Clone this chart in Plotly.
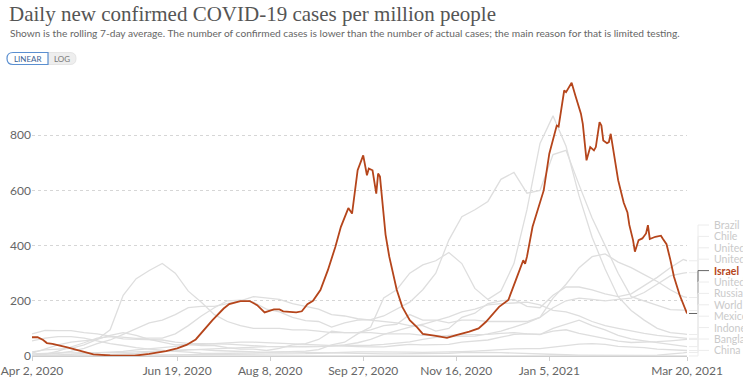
import plotly.graph_objects as go

# ---------------- data ----------------
weekly_dates = [
    "2020-04-02", "2020-04-09", "2020-04-16", "2020-04-23", "2020-04-30", "2020-05-07",
    "2020-05-14", "2020-05-21", "2020-05-28", "2020-06-04", "2020-06-11", "2020-06-18",
    "2020-06-25", "2020-07-02", "2020-07-09", "2020-07-16", "2020-07-23", "2020-07-30",
    "2020-08-06", "2020-08-13", "2020-08-20", "2020-08-27", "2020-09-03", "2020-09-10",
    "2020-09-17", "2020-09-24", "2020-10-01", "2020-10-08", "2020-10-15", "2020-10-22",
    "2020-10-29", "2020-11-05", "2020-11-12", "2020-11-19", "2020-11-26", "2020-12-03",
    "2020-12-10", "2020-12-17", "2020-12-24", "2020-12-31", "2021-01-07", "2021-01-14",
    "2021-01-21", "2021-01-28", "2021-02-04", "2021-02-11", "2021-02-18", "2021-02-25",
    "2021-03-04", "2021-03-11", "2021-03-18", "2021-03-20",
]

brazil = [3, 6, 10, 17, 28, 45, 58, 78, 100, 120, 130, 150, 175, 180, 180, 190, 200, 215,
          210, 205, 190, 180, 170, 150, 145, 135, 130, 125, 120, 110, 110, 90, 100, 140,
          155, 190, 200, 205, 180, 175, 220, 250, 250, 240, 225, 215, 225, 255, 285, 320,
          350, 345]
chile = [15, 22, 25, 28, 40, 60, 95, 220, 280, 310, 335, 300, 235, 195, 150, 125, 110, 100,
         100, 100, 95, 95, 90, 85, 85, 85, 85, 80, 80, 80, 75, 75, 70, 70, 72, 80, 90, 105,
         120, 140, 175, 200, 210, 205, 200, 205, 210, 230, 260, 290, 300, 302]
uae = [10, 25, 40, 50, 55, 60, 75, 85, 75, 60, 50, 40, 42, 38, 38, 30, 25, 25, 20, 28, 40,
       45, 60, 90, 85, 85, 95, 110, 115, 150, 130, 130, 120, 130, 130, 125, 125, 125, 125,
       140, 210, 260, 320, 360, 370, 340, 320, 295, 270, 240, 215, 212]
usa = [80, 93, 92, 92, 85, 80, 72, 67, 64, 65, 65, 80, 110, 145, 175, 200, 202, 195, 170,
       160, 140, 128, 125, 105, 120, 130, 132, 145, 170, 195, 240, 300, 420, 505, 530, 560,
       640, 665, 590, 600, 730, 745, 620, 500, 400, 300, 215, 200, 185, 168, 166, 165]
uk = [55, 65, 70, 70, 65, 55, 45, 38, 30, 25, 20, 17, 14, 10, 9, 9, 10, 11, 13, 15, 17, 18,
      23, 40, 50, 80, 105, 210, 240, 300, 330, 345, 375, 335, 245, 205, 235, 335, 530, 770,
      870, 760, 580, 430, 315, 215, 165, 130, 100, 85, 80, 78]
russia = [1.5, 6, 18, 32, 48, 65, 70, 62, 60, 59, 58, 50, 46, 45, 45, 43, 40, 37, 35, 34, 33,
          33, 34, 36, 40, 48, 60, 78, 92, 105, 115, 128, 142, 160, 170, 185, 190, 192, 195,
          185, 165, 160, 145, 125, 110, 100, 90, 82, 75, 70, 65, 64]
world = [8, 10, 11, 11, 11, 11, 12, 13, 15, 16, 17, 19, 22, 24, 26, 29, 32, 33, 34, 34, 34,
         35, 35, 36, 38, 38, 39, 42, 46, 51, 60, 67, 75, 77, 77, 78, 82, 85, 80, 78, 90, 95,
         82, 72, 63, 54, 49, 50, 52, 55, 58, 60]
mexico = [1, 2, 4, 6, 9, 11, 14, 17, 22, 25, 30, 35, 40, 42, 45, 48, 50, 50, 48, 46, 42, 40,
          38, 36, 34, 34, 33, 33, 38, 42, 40, 40, 42, 50, 55, 58, 68, 78, 80, 78, 100, 115,
          130, 110, 95, 75, 62, 55, 48, 42, 35, 34]
indonesia = [0.5, 0.8, 1, 1.1, 1.2, 1.4, 1.6, 2, 2.2, 2.5, 3.3, 4, 4.5, 5, 5.8, 6.2, 6.5, 6.8,
             7, 7.5, 7.5, 8.5, 10, 12, 13, 15, 15, 15.5, 15, 14, 13, 13.5, 14, 16, 18, 21, 23,
             26, 27, 27, 32, 38, 43, 45, 42, 35, 33, 30, 25, 22, 20, 20]
bangladesh = [0, 0.3, 1, 2, 3, 4, 6, 7, 9, 14, 18, 20, 23, 23, 20, 18, 16, 15, 13, 15, 14, 13,
              12, 11, 9, 9, 8.5, 8, 8, 8, 8.5, 9, 10, 12, 13, 13, 12, 10, 8, 6.5, 5, 4.5, 3.5,
              3, 2.5, 2.5, 2.4, 2.5, 3.5, 6, 11, 13]
china = [0.06, 0.05, 0.06, 0.02, 0.01, 0.01, 0.01, 0.01, 0.0, 0.0, 0.01, 0.02, 0.02, 0.0,
         0.0, 0.01, 0.02, 0.05, 0.06, 0.05, 0.03, 0.01, 0.01, 0.01, 0.01, 0.01, 0.01, 0.01,
         0.01, 0.02, 0.02, 0.02, 0.02, 0.02, 0.02, 0.01, 0.01, 0.02, 0.02, 0.02, 0.06, 0.09,
         0.08, 0.06, 0.03, 0.01, 0.01, 0.01, 0.01, 0.01, 0.01, 0.01]

israel_dates = [
    "2020-04-02", "2020-04-05", "2020-04-08", "2020-04-10", "2020-04-13", "2020-04-16",
    "2020-04-21", "2020-04-25", "2020-04-29", "2020-05-05", "2020-05-14", "2020-05-27",
    "2020-06-04", "2020-06-13", "2020-06-19", "2020-06-24", "2020-06-29", "2020-07-03",
    "2020-07-08", "2020-07-14", "2020-07-17", "2020-07-23", "2020-07-28", "2020-08-01",
    "2020-08-05", "2020-08-10", "2020-08-13", "2020-08-15", "2020-08-22", "2020-08-25",
    "2020-08-28", "2020-08-31", "2020-09-04", "2020-09-08", "2020-09-12", "2020-09-15",
    "2020-09-19", "2020-09-21", "2020-09-24", "2020-09-27", "2020-09-29", "2020-09-30",
    "2020-10-02", "2020-10-04", "2020-10-05", "2020-10-06", "2020-10-09", "2020-10-11",
    "2020-10-15", "2020-10-18", "2020-10-22", "2020-10-26", "2020-10-29", "2020-11-05",
    "2020-11-11", "2020-11-16", "2020-11-23", "2020-11-28", "2020-12-02", "2020-12-09",
    "2020-12-14", "2020-12-18", "2020-12-22", "2020-12-23", "2020-12-24", "2020-12-27",
    "2021-01-02", "2021-01-05", "2021-01-08", "2021-01-09", "2021-01-10", "2021-01-11",
    "2021-01-13", "2021-01-14", "2021-01-15", "2021-01-17", "2021-01-19", "2021-01-20",
    "2021-01-21", "2021-01-22", "2021-01-23", "2021-01-25", "2021-01-27", "2021-01-29",
    "2021-01-30", "2021-02-01", "2021-02-02", "2021-02-03", "2021-02-05", "2021-02-06",
    "2021-02-07", "2021-02-09", "2021-02-11", "2021-02-14", "2021-02-16", "2021-02-17",
    "2021-02-19", "2021-02-20", "2021-02-22", "2021-02-24", "2021-02-26", "2021-02-27",
    "2021-02-28", "2021-03-03", "2021-03-06", "2021-03-07", "2021-03-09", "2021-03-11",
    "2021-03-13", "2021-03-16", "2021-03-18", "2021-03-20",
]
israel = [
    68, 68, 58, 47, 44, 40, 31, 24, 16, 6, 2, 1, 8, 18, 28, 40, 60, 92, 130, 172, 188, 199,
    199, 184, 158, 169, 169, 162, 158, 162, 188, 200, 239, 311, 395, 468, 536, 516, 673, 727,
    655, 679, 673, 588, 661, 650, 440, 360, 240, 178, 130, 104, 80, 73, 66, 76, 88, 100, 124,
    178, 203, 275, 347, 334, 360, 468, 600, 733, 811, 835, 831, 878, 962, 956, 968, 990, 944,
    920, 896, 878, 841, 709, 757, 745, 757, 847, 835, 781, 771, 775, 805, 727, 637, 555, 520,
    475, 420, 378, 420, 426, 444, 474, 424, 432, 436, 425, 405, 350, 287, 222, 184, 154,
]

gray_series = [
    ("Brazil", brazil), ("Chile", chile), ("United Arab Emirates", uae),
    ("United States", usa), ("United Kingdom", uk), ("Russia", russia),
    ("World", world), ("Mexico", mexico), ("Indonesia", indonesia),
    ("Bangladesh", bangladesh), ("China", china),
]
label_order = ["Brazil", "Chile", "United Arab Emirates", "United States", "Israel",
               "United Kingdom", "Russia", "World", "Mexico", "Indonesia", "Bangladesh", "China"]

tick_dates = ["2020-04-02", "2020-06-19", "2020-08-08", "2020-09-27", "2020-11-16",
              "2021-01-05", "2021-03-20"]
tick_text = ["Apr 2, 2020", "Jun 19, 2020", "Aug 8, 2020", "Sep 27, 2020", "Nov 16, 2020",
             "Jan 5, 2021", "Mar 20, 2021"]
y_ticks = [0, 200, 400, 600, 800]

title = "Daily new confirmed COVID-19 cases per million people"
subtitle = ("Shown is the rolling 7-day average. The number of confirmed cases is lower than "
            "the number of actual cases; the main reason for that is limited testing.")

# ---------------- layout geometry ----------------
W, H = 743, 386
L, R, T, B = 32, 56, 80, 30
PW, PH = W - L - R, H - T - B
YMAX = 1000

RED = "#b5451b"
GRAY = "#dedede"


def px(x):
    return (x - L) / PW


def py(y):
    return (H - B - y) / PH


fig = go.Figure()
for name, vals in gray_series:
    fig.add_trace(go.Scatter(x=weekly_dates, y=vals, mode="lines", name=name,
                             line=dict(color=GRAY, width=1.3), hoverinfo="x+y+name"))
fig.add_trace(go.Scatter(x=israel_dates, y=israel, mode="lines", name="Israel",
                         line=dict(color=RED, width=1.8), hoverinfo="x+y+name"))

annotations = []
shapes = []

annotations.append(dict(text=title, x=px(7), y=py(14), xref="paper", yref="paper",
                        xanchor="left", yanchor="middle", showarrow=False,
                        font=dict(family="Liberation Serif", size=21, color="#555")))
annotations.append(dict(text=subtitle, x=px(8), y=py(33), xref="paper", yref="paper",
                        xanchor="left", yanchor="middle", showarrow=False,
                        font=dict(family="Lato", size=10.2, color="#666")))


def rrect(x0, y0, x1, y1, rl, rr):
    X0, X1 = px(x0), px(x1)
    Y0, Y1 = py(y0), py(y1)
    rxl, ryl = rl / PW, rl / PH
    rxr, ryr = rr / PW, rr / PH
    return (f"M {X0 + rxl} {Y0} L {X1 - rxr} {Y0} Q {X1} {Y0} {X1} {Y0 - ryr} "
            f"L {X1} {Y1 + ryr} Q {X1} {Y1} {X1 - rxr} {Y1} L {X0 + rxl} {Y1} "
            f"Q {X0} {Y1} {X0} {Y1 + ryl} L {X0} {Y0 - ryl} Q {X0} {Y0} {X0 + rxl} {Y0} Z")


shapes.append(dict(type="path", xref="paper", yref="paper", path=rrect(48, 52.5, 76, 64.5, 0, 6),
                   fillcolor="#eeeeee", line=dict(color="#e4e4e4", width=1)))
shapes.append(dict(type="path", xref="paper", yref="paper", path=rrect(7, 52.5, 48, 64.5, 6, 0),
                   fillcolor="white", line=dict(color="#5a8fd0", width=1.2)))
annotations.append(dict(text="LINEAR", x=px(27.5), y=py(58.5), xref="paper", yref="paper",
                        showarrow=False, xanchor="center", yanchor="middle",
                        font=dict(family="Lato", size=8, color="#3a5f95")))
annotations.append(dict(text="LOG", x=px(62), y=py(58.5), xref="paper", yref="paper",
                        showarrow=False, xanchor="center", yanchor="middle",
                        font=dict(family="Lato", size=8, color="#777")))

end_values = {name: vals[-1] for name, vals in gray_series}
end_values["Israel"] = israel[-1]
label_y0, label_step = 225, 11.4
for i, name in enumerate(label_order):
    ly = label_y0 + i * label_step
    is_isr = name == "Israel"
    annotations.append(dict(text=f"<b>{name}</b>" if is_isr else name,
                            x=px(712), y=py(ly), xref="paper", yref="paper",
                            xanchor="left", yanchor="middle", showarrow=False,
                            font=dict(family="Lato", size=10.5,
                                      color=RED if is_isr else "#cacaca")))
    ey = end_values[name] / YMAX
    lc = "#666" if is_isr else "#ececec"
    xm = px(698)
    shapes.append(dict(type="path", xref="paper", yref="paper",
                       path=f"M {px(689)} {ey} L {xm} {ey} L {xm} {py(ly)} L {px(709)} {py(ly)}",
                       line=dict(color=lc, width=1)))

fig.update_layout(
    width=W, height=H,
    margin=dict(l=L, r=R, t=T, b=B, autoexpand=False),
    paper_bgcolor="white", plot_bgcolor="white",
    showlegend=False,
    font=dict(family="Lato", color="#666"),
    annotations=annotations, shapes=shapes,
    xaxis=dict(type="date", range=["2020-04-02", "2021-03-20"], tickvals=tick_dates,
               ticktext=tick_text, showgrid=False, showline=True, linecolor="#cfcfcf",
               linewidth=1, ticks="outside", ticklen=4, tickcolor="#cfcfcf",
               tickfont=dict(family="Lato", size=12, color="#666"), zeroline=False,
               fixedrange=True, automargin=False),
    yaxis=dict(range=[0, YMAX], tickvals=y_ticks, showgrid=True, gridcolor="#d6d6d6",
               griddash="dot", gridwidth=1, zeroline=False, showline=False, ticks="",
               tickfont=dict(family="Lato", size=12, color="#666"), fixedrange=True,
               automargin=False),
)

fig.write_html(
    "out.html",
    config={"displayModeBar": False},
    post_script="document.body.style.margin='0';document.body.style.overflow='hidden';",
)
